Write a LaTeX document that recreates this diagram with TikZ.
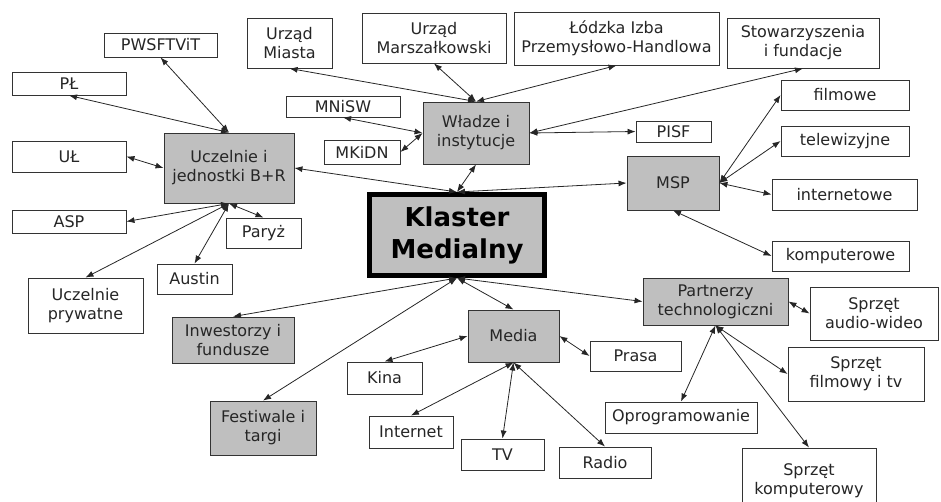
\documentclass[tikz,border=0pt]{standalone}
\usepackage{fontspec}
\setmainfont{DejaVu Sans}
\usetikzlibrary{arrows.meta}

\tikzset{
  leaf/.style={draw=black!80, line width=0.9pt, fill=white, align=center, inner sep=0pt, text=black!85},
  hub/.style={leaf, fill=black!25},
  core/.style={draw=black, line width=5pt, fill=black!25, align=center, inner sep=0pt,
    font=\bfseries\fontsize{26}{32}\selectfont},
  sz/.style 2 args={minimum width=#1pt, minimum height=#2pt},
  link/.style={{Latex[length=8pt,width=6pt]}-{Latex[length=8pt,width=6pt]}, draw=black!85, line width=0.8pt}
}

\begin{document}
\begin{tikzpicture}[x=1pt, y=-1pt, font=\fontsize{16}{19}\selectfont]
\useasboundingbox (0,0) rectangle (941,501);
\clip (0,0) rectangle (941,501);

% centre
\node[core, sz={175}{81}] (klaster) at (457,235) {Klaster\\Medialny};

% uczelnie
\node[hub, sz={130}{70}] (uczelnie) at (229,168) {Uczelnie i\\jednostki B+R};
\node[leaf, sz={113}{24}] (pwsftvit) at (160.5,45) {PWSFTViT};
\node[leaf, sz={114}{23}] (pl) at (69,83.5) {PŁ};
\node[leaf, sz={114}{31}] (ul) at (69,156.5) {UŁ};
\node[leaf, sz={114}{23}] (asp) at (69,221.5) {ASP};
\node[leaf, sz={115}{55}] (prywatne) at (85.5,305.5) {Uczelnie\\prywatne};
\node[leaf, sz={75}{30}] (austin) at (194.5,279) {Austin};
\node[leaf, sz={75}{30}] (paryz) at (263.5,233) {Paryż};

% wladze
\node[hub, sz={106}{62}] (wladze) at (476,133) {Władze i\\instytucje};
\node[leaf, sz={85}{50}] (miasto) at (289.5,43) {Urząd\\Miasta};
\node[leaf, sz={144}{50}] (marszalek) at (434,38) {Urząd\\Marszałkowski};
\node[leaf, sz={205}{53}] (izba) at (616.5,38.5) {Łódzka Izba\\Przemysłowo-Handlowa};
\node[leaf, sz={152}{50}] (stow) at (803,43) {Stowarzyszenia\\i fundacje};
\node[leaf, sz={114}{21}] (mnisw) at (343,106.5) {MNiSW};
\node[leaf, sz={76}{24}] (mkidn) at (362,152) {MKiDN};
\node[leaf, sz={75}{21}] (pisf) at (673.5,131.5) {PISF};

% msp
\node[hub, sz={92}{54}] (msp) at (673,183) {MSP};
\node[leaf, sz={128}{30}] (filmowe) at (845,95) {filmowe};
\node[leaf, sz={128}{30}] (telewiz) at (845,141) {telewizyjne};
\node[leaf, sz={145}{31}] (internetowe) at (844.5,194.5) {internetowe};
\node[leaf, sz={137}{30}] (komputerowe) at (840.5,256) {komputerowe};

% partnerzy
\node[hub, sz={145}{47}] (partnerzy) at (715.5,301.5) {Partnerzy\\technologiczni};
\node[leaf, sz={128}{53}] (audio) at (874,313.5) {Sprzęt\\audio-wideo};
\node[leaf, sz={136}{54}] (filmtv) at (856,374) {Sprzęt\\filmowy i tv};
\node[leaf, sz={152}{31}] (oprog) at (681,417.5) {Oprogramowanie};
\node[leaf, sz={134}{66}] (sprzkomp) at (809,481) {Sprzęt\\komputerowy};

% media
\node[hub, sz={91}{52}] (media) at (513.5,336) {Media};
\node[leaf, sz={91}{30}] (prasa) at (635.5,356) {Prasa};
\node[leaf, sz={75}{32}] (kina) at (384.5,378) {Kina};
\node[leaf, sz={84}{32}] (internet) at (411,432) {Internet};
\node[leaf, sz={83}{31}] (tv) at (502.5,454.5) {TV};
\node[leaf, sz={92}{31}] (radio) at (605,462.5) {Radio};

% pozostale
\node[hub, sz={122}{46}] (inwest) at (233,340) {Inwestorzy i\\fundusze};
\node[hub, sz={106}{54}] (festiwale) at (263,428) {Festiwale i\\targi};

% polaczenia z klastrem
\draw[link] (uczelnie.east) to (klaster.north);
\draw[link] (wladze.south) to (klaster.north);
\draw[link] (klaster.north) to (msp.west);
\draw[link] (klaster.south) to (inwest.north);
\draw[link] (klaster.south) to (festiwale.north);
\draw[link] (klaster.south) to (media.north);
\draw[link] (klaster.south) to (partnerzy.west);

% uczelnie
\draw[link] (uczelnie.north) to (pwsftvit.south);
\draw[link] (uczelnie.north) to (pl.south);
\draw[link] (uczelnie.west) to (ul.east);
\draw[link] (uczelnie.south) to (asp.east);
\draw[link] (uczelnie.south) to (prywatne.north);
\draw[link] (uczelnie.south) to (austin.north);
\draw[link] (uczelnie.south) to (paryz.north);

% wladze
\draw[link] (wladze.north) to (miasto.south);
\draw[link] (wladze.north) to (marszalek.south);
\draw[link] (wladze.north) to (izba.south);
\draw[link] (wladze.east) to (stow.south);
\draw[link] (wladze.east) to (pisf.west);
\draw[link] (wladze.west) to (mnisw.south);
\draw[link] (wladze.west) to (mkidn.east);

% msp
\draw[link] (msp.east) to (filmowe.west);
\draw[link] (msp.east) to (telewiz.west);
\draw[link] (msp.east) to (internetowe.west);
\draw[link] (msp.south) to (komputerowe.west);

% partnerzy
\draw[link] (partnerzy.east) to (audio.west);
\draw[link] (partnerzy.south) to (filmtv.west);
\draw[link] (partnerzy.south) to (oprog.north);
\draw[link] (partnerzy.south) to (sprzkomp.north);

% media
\draw[link] (media.west) to (kina.north);
\draw[link] (media.east) to (prasa.west);
\draw[link] (media.south) to (internet.north);
\draw[link] (media.south) to (tv.north);
\draw[link] (media.south) to (radio.north);
\end{tikzpicture}
\end{document}
